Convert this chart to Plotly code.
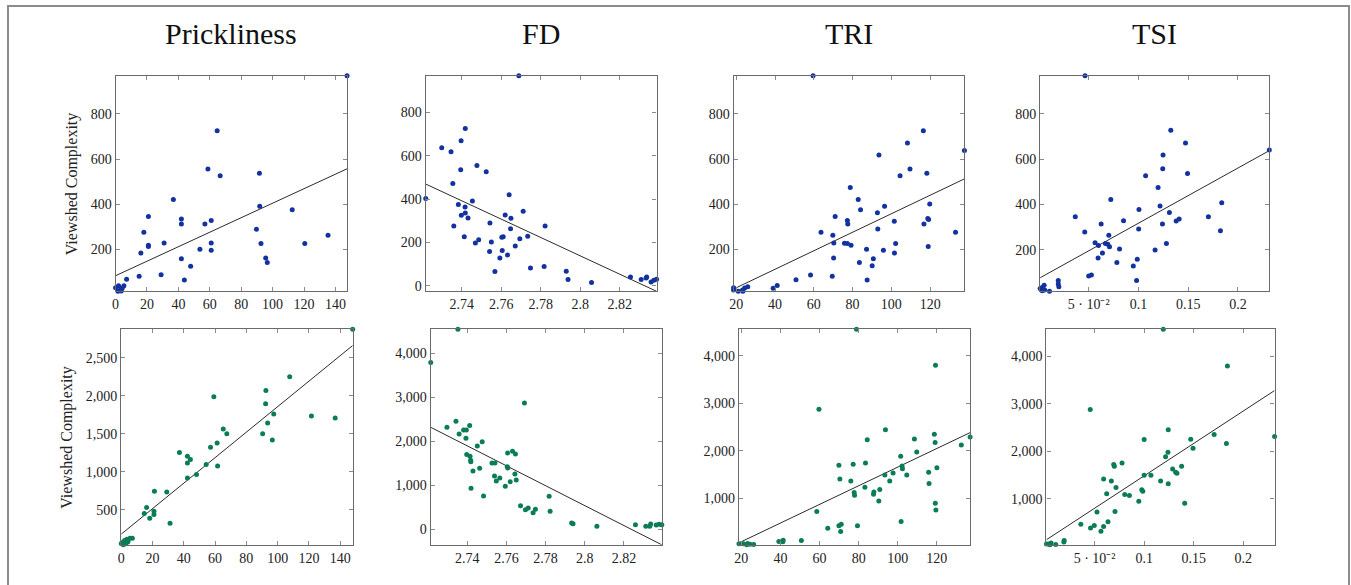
import plotly.graph_objects as go

# ---------------- data ----------------
titles = ["Prickliness", "FD", "TRI", "TSI"]
y_label = "Viewshed Complexity"

# Row 1
pr_x1 = [147.4, 64.7, 58.8, 66.6, 91.6, 36.8, 91.8, 112.5, 20.9, 41.9, 41.9, 56.9, 60.9, 18.0, 89.7,
         135.3, 20.9, 20.9, 30.9, 60.9, 60.9, 53.7, 92.6, 120.5, 16.1, 41.9, 95.6, 96.6, 47.8, 29.0,
         15.0, 43.8, 7.0, 0.0, 1.9, 3.0, 4.2, 5.3, 1.5, 3.6]
pr_y1 = [969, 726, 556, 526, 537, 421, 391, 376, 346, 335, 313, 313, 328, 276, 290,
         263, 219, 213, 229, 229, 197, 201, 226, 226, 184, 159, 162, 143, 126, 88,
         82, 65, 68, 31, 40, 21, 28, 40, 15, 16]

fd_x1 = [2.7218, 2.7689, 2.7299, 2.7346, 2.7418, 2.7397, 2.7395, 2.7355, 2.7477, 2.7524,
         2.7383, 2.7417, 2.7454, 2.7418, 2.7398, 2.7432, 2.7360, 2.7413, 2.7469, 2.7486,
         2.7543, 2.7550, 2.7541, 2.7568, 2.7593, 2.7605, 2.7610, 2.7603, 2.7620, 2.7632,
         2.7640, 2.7649, 2.7647, 2.7671, 2.7694, 2.7711, 2.7734, 2.7748, 2.7817, 2.7822,
         2.7929, 2.7938, 2.8057, 2.8254, 2.8308, 2.8333, 2.8336, 2.8358, 2.8372, 2.8386]
fd_y1 = [402, 969, 637, 618, 726, 669, 535, 472, 555, 526,
         375, 363, 391, 335, 325, 312, 275, 226, 197, 212,
         289, 202, 158, 65, 128, 162, 226, 223, 326, 142,
         420, 311, 263, 183, 217, 343, 228, 82, 88, 275,
         66, 28, 15, 40, 28, 35, 40, 17, 25, 30]

tri_x1 = [59.6, 116.5, 108.3, 93.6, 109.6, 104.5, 118.3, 78.8, 82.9, 84.1, 96.5, 92.8, 119.8,
          71.0, 77.3, 77.5, 101.5, 63.7, 69.8, 70.3, 75.8, 77.3, 79.2, 93.0, 102.2, 101.6,
          87.2, 95.9, 70.2, 83.5, 90.7, 90.1, 58.3, 69.5, 87.5, 50.8, 39.0, 41.1, 18.6, 18.6,
          21.0, 23.2, 24.3, 25.9, 23.4, 118.8, 119.2, 116.8, 119.0, 137.7, 133.1]
tri_y1 = [969, 726, 671, 618, 556, 526, 537, 474, 421, 376, 391, 363, 401,
          346, 328, 313, 325, 276, 263, 229, 228, 226, 219, 291, 226, 184,
          201, 197, 162, 143, 159, 128, 87, 82, 65, 66, 29, 41, 31, 21,
          15, 21, 30, 35, 15, 337, 333, 313, 213, 638, 276]

tsi_x1 = [0.0463, 0.1325, 0.1473, 0.1247, 0.1244, 0.1493, 0.1072, 0.1197, 0.0722, 0.1217,
          0.1005, 0.1311, 0.0365, 0.1409, 0.1379, 0.0850, 0.0625, 0.1241, 0.1002, 0.0460,
          0.0702, 0.0564, 0.0598, 0.0668, 0.0692, 0.0709, 0.1281, 0.0810, 0.0638, 0.1167,
          0.0594, 0.0783, 0.0948, 0.0988, 0.0527, 0.0500, 0.0981, 0.0194, 0.0194, 0.0200,
          0.0012, 0.0035, 0.0052, 0.0058, 0.0033, 0.0106, 0.2315, 0.1703, 0.1837, 0.1824]
tsi_y1 = [969, 728, 672, 619, 558, 537, 527, 475, 422, 393,
          378, 364, 346, 336, 327, 328, 313, 313, 291, 278,
          264, 231, 219, 227, 224, 213, 227, 203, 185, 199,
          163, 143, 128, 158, 88, 84, 64, 64, 48, 36,
          28, 34, 43, 22, 18, 16, 641, 346, 407, 284]

# Row 2
pr_x2 = [148.0, 107.7, 92.5, 92.3, 59.2, 121.6, 136.8, 97.5, 93.6, 65.2, 67.5, 90.4, 96.6, 57.1,
         61.3, 37.2, 42.3, 44.2, 42.3, 54.3, 61.6, 48.1, 42.3, 21.2, 29.1, 16.2, 14.7, 20.9,
         20.9, 18.2, 31.2, 7.1, 5.6, 3.6, 2.1, 1.1, 0.0, 3.0, 4.3, 1.3]
pr_y2 = [2876, 2251, 2071, 1896, 1988, 1734, 1708, 1760, 1642, 1563, 1502, 1502, 1419, 1323,
         1380, 1253, 1205, 1161, 1117, 1095, 1078, 964, 920, 745, 736, 531, 452, 482,
         439, 391, 325, 128, 128, 115, 97, 75, 58, 54, 80, 40]

fd_x2 = [2.7352, 2.7213, 2.7692, 2.7342, 2.7296, 2.7412, 2.7358, 2.7381, 2.7395, 2.7393,
         2.7476, 2.7451, 2.7397, 2.7414, 2.7417, 2.7418, 2.7429, 2.7463, 2.7419, 2.7483,
         2.7526, 2.7541, 2.7539, 2.7548, 2.7566, 2.7604, 2.7607, 2.7631, 2.7646, 2.7606,
         2.7643, 2.7650, 2.7619, 2.7594, 2.7672, 2.7697, 2.7711, 2.7736, 2.7748, 2.7818,
         2.7823, 2.7933, 2.7940, 2.8062, 2.8259, 2.8312, 2.8337, 2.8332, 2.8365, 2.8380, 2.8394]
fd_y2 = [4555, 3795, 2875, 2456, 2319, 2357, 2167, 2259, 2259, 2068,
         1992, 1894, 1696, 1658, 1567, 1536, 1323, 1384, 928, 753,
         1506, 1506, 1209, 1095, 1163, 1422, 1392, 1772, 1711, 1734,
         1255, 1118, 1080, 973, 532, 441, 479, 373, 449, 745,
         403, 137, 122, 61, 99, 61, 114, 61, 90, 110, 95]

tri_x2 = [78.9, 59.7, 93.7, 84.4, 108.5, 109.7, 101.5, 69.9, 77.2, 83.5, 102.2, 102.4, 70.4,
          76.0, 93.4, 97.6, 95.9, 104.6, 115.8, 116.0, 77.7, 77.9, 83.2, 87.8, 87.6, 90.8,
          90.3, 58.6, 64.2, 69.9, 71.1, 70.8, 79.4, 101.7, 50.7, 39.2, 41.2, 41.4, 18.8,
          21.0, 23.2, 24.4, 26.3, 22.7, 137.0, 132.5, 119.3, 118.7, 119.1, 119.2, 119.5, 120.0]
tri_y2 = [4559, 2874, 2448, 2238, 2252, 1979, 1888, 1699, 1720, 1748, 1685, 1629, 1413,
          1371, 1497, 1538, 1371, 1497, 1552, 1315, 1126, 1070, 1238, 1140, 1091, 1189,
          951, 727, 378, 427, 462, 308, 427, 517, 119, 98, 91, 126, 49,
          49, 56, 42, 35, 28, 2291, 2128, 3800, 2350, 2180, 900, 760, 1650]

tsi_x2 = [0.1193, 0.0456, 0.1243, 0.1000, 0.1470, 0.1493, 0.1240, 0.1216, 0.0693, 0.0699,
          0.0777, 0.1378, 0.1287, 0.1318, 0.1331, 0.0591, 0.0669, 0.1166, 0.1000, 0.1068,
          0.1243, 0.0716, 0.0622, 0.0804, 0.0851, 0.0986, 0.0976, 0.0946, 0.1409, 0.0706,
          0.0524, 0.0361, 0.0459, 0.0497, 0.0591, 0.0635, 0.0564, 0.0193, 0.0190, 0.0014,
          0.0034, 0.0061, 0.0108, 0.0050, 0.1840, 0.2316, 0.1706, 0.1830]
tsi_y2 = [4567, 2879, 2454, 2248, 2255, 2064, 1979, 1887, 1723, 1688,
          1752, 1688, 1631, 1560, 1539, 1418, 1376, 1376, 1496, 1496,
          1319, 1241, 1106, 1092, 1071, 1163, 1191, 950, 908, 738,
          723, 468, 390, 440, 418, 518, 319, 128, 92, 50,
          50, 71, 43, 35, 3794, 2313, 2355, 2164]

# Linear trend lines (intercept, slope), per panel
fit_intercept = [84, 12004, -51.1, 73, 181, 64046, -298, 123]
fit_slope = [3.209, -4238, 4.093, 2440, 16.76, -22683, 19.59, 13619]

# Tick values / labels
x_tickvals = [[0, 20, 40, 60, 80, 100, 120, 140],
              [2.74, 2.76, 2.78, 2.8, 2.82],
              [20, 40, 60, 80, 100, 120],
              [0.05, 0.1, 0.15, 0.2]]
x_ticktext = [["0", "20", "40", "60", "80", "100", "120", "140"],
              ["2.74", "2.76", "2.78", "2.8", "2.82"],
              ["20", "40", "60", "80", "100", "120"],
              ["5 · 10⁻²", "0.1", "0.15", "0.2"]]
y_tickvals_r1 = [[200, 400, 600, 800], [0, 200, 400, 600, 800],
                 [200, 400, 600, 800], [200, 400, 600, 800]]
y_tickvals_r2 = [[500, 1000, 1500, 2000, 2500], [0, 1000, 2000, 3000, 4000],
                 [1000, 2000, 3000, 4000], [1000, 2000, 3000, 4000]]

# ---------------- layout geometry (pixels) ----------------
W, H = 1351, 585
boxes_x = [[(111, 343.3), (422.3, 654), (731.3, 963), (1039, 1269)],
           [(116.7, 349), (427.3, 659.3), (736.7, 968.7), (1045.3, 1274.3)]]
boxes_y = [(76, 292.3), (330.3, 546.7)]
row_colors = ["#1232a0", "#0b7d55"]

panels = [(pr_x1, pr_y1), (fd_x1, fd_y1), (tri_x1, tri_y1), (tsi_x1, tsi_y1),
          (pr_x2, pr_y2), (fd_x2, fd_y2), (tri_x2, tri_y2), (tsi_x2, tsi_y2)]

FONT = "Liberation Serif"
fig = go.Figure()
layout = dict(width=W, height=H, autosize=False, margin=dict(l=0, r=0, t=0, b=0),
              paper_bgcolor="white", plot_bgcolor="white", showlegend=False,
              font=dict(family=FONT, size=14, color="#222"))

for i, (xs, ys) in enumerate(panels):
    r, c = divmod(i, 4)
    n = i + 1
    xa = "x" if n == 1 else f"x{n}"
    ya = "y" if n == 1 else f"y{n}"
    x0, x1 = min(xs), max(xs)
    lx = [x0, x1]
    ly = [fit_intercept[i] + fit_slope[i] * v for v in lx]
    y0 = min(min(ys), min(ly))
    y1 = max(max(ys), max(ly))

    fig.add_trace(go.Scatter(x=lx, y=ly, mode="lines", xaxis=xa, yaxis=ya,
                             line=dict(color="#2b2b2b", width=1), hoverinfo="skip"))
    fig.add_trace(go.Scatter(x=xs, y=ys, mode="markers", xaxis=xa, yaxis=ya, cliponaxis=False,
                             marker=dict(color=row_colors[r], size=5, line=dict(width=0))))

    bx = boxes_x[r][c]
    by = boxes_y[r]
    axis_common = dict(showline=True, linecolor="#6a6a6a", linewidth=1.3, mirror="ticks",
                       ticks="inside", ticklen=4, tickwidth=1, tickcolor="#8a8a8a",
                       showgrid=False, zeroline=False,
                       tickfont=dict(family=FONT, size=14, color="#222"))
    layout[f"xaxis{'' if n == 1 else n}"] = dict(
        domain=[bx[0] / W, bx[1] / W], anchor=ya, range=[x0, x1],
        tickvals=x_tickvals[c], ticktext=x_ticktext[c], **axis_common)
    yt = y_tickvals_r1[c] if r == 0 else y_tickvals_r2[c]
    layout[f"yaxis{'' if n == 1 else n}"] = dict(
        domain=[1 - by[1] / H, 1 - by[0] / H], anchor=xa, range=[y0, y1],
        tickvals=yt, tickformat=",d", **axis_common)

annotations = []
for c, t in enumerate(titles):
    bx = boxes_x[0][c]
    annotations.append(dict(text=t, x=(bx[0] + bx[1]) / 2 / W, y=1 - 34 / H,
                            xref="paper", yref="paper", showarrow=False,
                            xanchor="center", yanchor="middle",
                            font=dict(family=FONT, size=30, color="#111")))
for r, (xc, yc) in enumerate([(67, (76 + 292.3) / 2), (62, (330.3 + 546.7) / 2)]):
    annotations.append(dict(text=y_label, x=xc / W, y=1 - yc / H, xref="paper", yref="paper",
                            showarrow=False, textangle=-90, xanchor="center", yanchor="middle",
                            font=dict(family=FONT, size=16, color="#222")))
layout["annotations"] = annotations
layout["shapes"] = [dict(type="rect", xref="paper", yref="paper",
                         x0=3 / W, x1=1349 / W, y0=-0.05, y1=1 - 6 / H,
                         line=dict(color="#8c8c8c", width=2), fillcolor="rgba(0,0,0,0)")]

fig.update_layout(**layout)
fig.write_html("out.html")
